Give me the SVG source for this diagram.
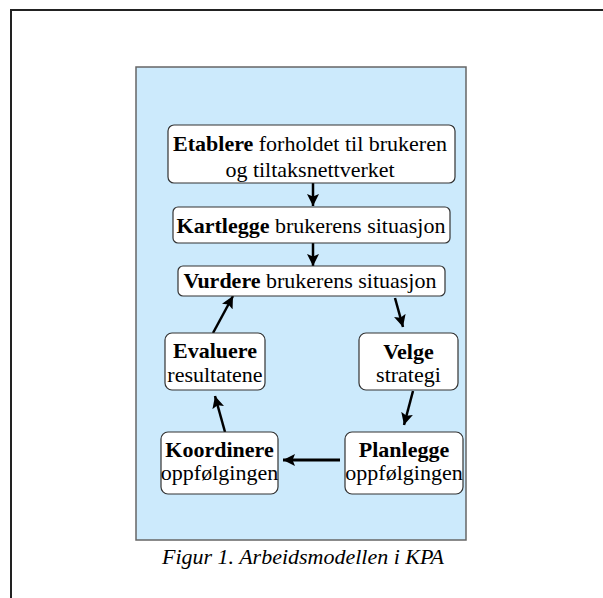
<svg xmlns="http://www.w3.org/2000/svg" width="603" height="598" viewBox="0 0 603 598">
<style>
.box{fill:#fff;stroke:#333;stroke-width:1.2}
text{font-family:"Liberation Serif","Times New Roman",serif;font-size:22px;fill:#000;text-anchor:middle}
.b{font-weight:bold}
.cap{font-style:italic;font-size:22px}
.arr{stroke:#000;stroke-width:2.5;fill:none;marker-end:url(#ah)}
</style>
<defs>
<marker id="ah" markerWidth="12" markerHeight="12" refX="10" refY="5" orient="auto" markerUnits="userSpaceOnUse" viewBox="0 0 10 10">
<path d="M0,0 L10,5 L0,10 L2,5 z" fill="#000"/>
</marker>
</defs>
<rect x="11" y="10" width="620" height="620" fill="#fff" stroke="#222" stroke-width="2"/>
<rect x="136" y="67" width="330" height="473" fill="#cceafc" stroke="#666" stroke-width="1.5"/>
<g id="connectors">
<line class="arr" x1="313" y1="183" x2="313" y2="206"/>
<line class="arr" x1="313" y1="243" x2="313" y2="266"/>
<line class="arr" x1="395" y1="298" x2="403" y2="327"/>
<line class="arr" x1="413" y1="391" x2="404" y2="425"/>
<line class="arr" x1="340" y1="460" x2="283" y2="460" style="stroke-width:3.2"/>
<line class="arr" x1="225" y1="432" x2="215" y2="396"/>
<line class="arr" x1="213" y1="333" x2="233" y2="296"/>
</g>
<g id="etablere">
<rect class="box" x="168" y="125" width="287" height="58" rx="6"/>
<text x="310" y="151"><tspan class="b">Etablere</tspan> forholdet til brukeren</text>
<text x="310" y="177">og tiltaksnettverket</text>
</g>
<g id="kartlegge">
<rect class="box" x="173" y="207" width="277" height="36" rx="5"/>
<text x="311" y="233"><tspan class="b">Kartlegge</tspan> brukerens situasjon</text>
</g>
<g id="vurdere">
<rect class="box" x="178" y="266" width="267" height="30" rx="5"/>
<text x="310" y="288"><tspan class="b">Vurdere</tspan> brukerens situasjon</text>
</g>
<g id="velge">
<rect class="box" x="359" y="333" width="99" height="57" rx="7"/>
<text x="408.5" y="359" class="b">Velge</text>
<text x="408.5" y="382">strategi</text>
</g>
<g id="planlegge">
<rect class="box" x="345" y="432" width="118" height="62" rx="7"/>
<text x="404" y="457" class="b">Planlegge</text>
<text x="404" y="480">oppfølgingen</text>
</g>
<g id="koordinere">
<rect class="box" x="161" y="432" width="117" height="62" rx="7"/>
<text x="219.5" y="457" class="b">Koordinere</text>
<text x="219.5" y="480">oppfølgingen</text>
</g>
<g id="evaluere">
<rect class="box" x="165" y="333" width="100" height="57" rx="7"/>
<text x="215" y="358" class="b">Evaluere</text>
<text x="215" y="382">resultatene</text>
</g>
<text class="cap" x="303" y="564">Figur 1. Arbeidsmodellen i KPA</text>
</svg>
